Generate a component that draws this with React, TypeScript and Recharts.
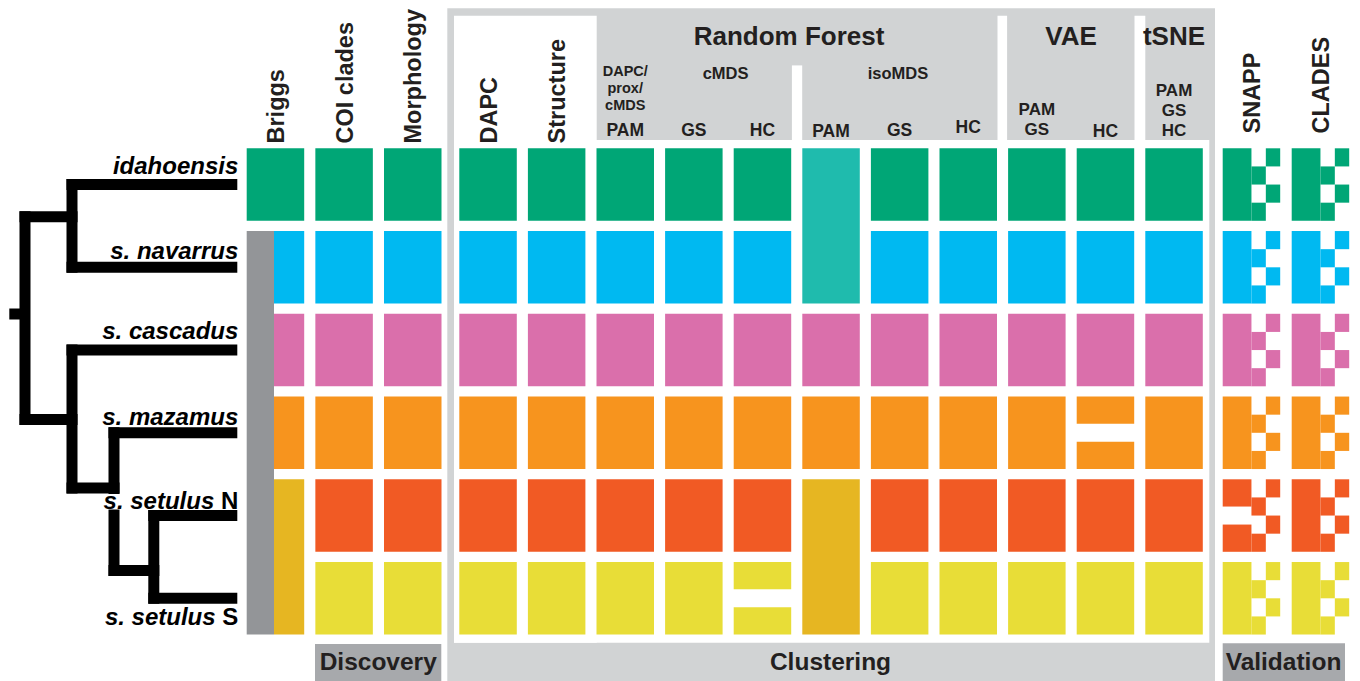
import React from 'react';
import { ComposedChart, XAxis, YAxis, ReferenceArea } from 'recharts';

const W = 1360;
const H = 681;

// ---------- data ----------
const taxa = ['idahoensis', 's. navarrus', 's. cascadus', 's. mazamus', 's. setulus N', 's. setulus S'];

const methods = [
  'Briggs', 'COI clades', 'Morphology',
  'DAPC', 'Structure', 'RF cMDS PAM', 'RF cMDS GS', 'RF cMDS HC',
  'RF isoMDS PAM', 'RF isoMDS GS', 'RF isoMDS HC', 'VAE PAM/GS', 'VAE HC', 'tSNE',
  'SNAPP', 'CLADES',
];

// cluster each taxon falls into, per method
const sixClusters = ['ida', 'nav', 'cas', 'maz', 'setN', 'setS'];
const briggsClusters = ['ida', 'nav', 'cas', 'maz', 'setNS', 'setNS'];
const isoPamClusters = ['idaNav', 'idaNav', 'cas', 'maz', 'setNS', 'setNS'];

// number of groups a taxon was broken into
const noSplit = [1, 1, 1, 1, 1, 1];
const cmdsHcSplit = [1, 1, 1, 1, 1, 2];
const vaeHcSplit = [1, 1, 1, 2, 1, 1];
const snappSplit = [1, 1, 1, 1, 2, 1];

// Briggs' species; taxa sharing a name are subspecies
const briggsSpecies = ['idahoensis', 'setulus', 'setulus', 'setulus', 'setulus', 'setulus'];

const clustersByMethod = [
  briggsClusters, sixClusters, sixClusters,
  sixClusters, sixClusters, sixClusters, sixClusters, sixClusters,
  isoPamClusters, sixClusters, sixClusters, sixClusters, sixClusters, sixClusters,
  sixClusters, sixClusters,
];
const splitsByMethod = [
  noSplit, noSplit, noSplit,
  noSplit, noSplit, noSplit, noSplit, cmdsHcSplit,
  noSplit, noSplit, noSplit, noSplit, vaeHcSplit, noSplit,
  snappSplit, noSplit,
];

// dendrogram: leaves are taxon indices, x = node depth, y = node height
type TreeNode = number | { x: number; y: number; kids: TreeNode[] };
const tree: TreeNode = {
  x: 25, y: 314, kids: [
    { x: 72, y: 216.7, kids: [0, 1] },
    { x: 72, y: 419.5, kids: [2, { x: 114, y: 488, kids: [3, { x: 153.8, y: 570.5, kids: [4, 5] }] }] },
  ],
};

// ---------- style / layout ----------
const clusterColors: Record<string, string> = {
  ida: '#00a676', nav: '#00b9f1', cas: '#da6fab', maz: '#f7941e',
  setN: '#f15a24', setS: '#e8dd37', idaNav: '#1fbbad', setNS: '#e6b622',
};
const INK = '#231f20';
const PANEL = '#d1d3d4';
const BOX = '#a7a9ac';
const STRIPE = '#939598';
const FONT = '"Liberation Sans", Arial, Helvetica, sans-serif';

const CELL_W = 57.5;
const CELL_H = 72.5;
const ROW_TOP = 148.3;
const ROW_PITCH = 82.75;
const SPLIT_GAP = 18;
const BRIGGS_STRIPE = 27.3;
const TIP_X = 237.3;
const BRANCH = 11;

const colLeft = (c: number) =>
  c < 3 ? 246.7 + c * 68.65 : c < 14 ? 459.3 + (c - 3) * 68.6 : 1222.7 + (c - 14) * 69;
const rowTop = (r: number) => ROW_TOP + r * ROW_PITCH;
const rowMid = (r: number) => rowTop(r) + CELL_H / 2;

// SNAPP / CLADES cell glyph: 4 sub-columns x 4 sub-rows
const ladder = [[1, 1, 1, 1], [1, 1, 1, 1], [0, 1, 0, 1], [1, 0, 1, 0]];

type Box = { x1: number; x2: number; y1: number; y2: number; fill: string };

function splitBox(b: Box, parts: number): Box[] {
  if (parts < 2) return [b];
  const mid = (b.y1 + b.y2) / 2;
  return [{ ...b, y2: mid - SPLIT_GAP / 2 }, { ...b, y1: mid + SPLIT_GAP / 2 }];
}

function buildCells(): Box[] {
  const out: Box[] = [];
  methods.forEach((m, c) => {
    const clusters = clustersByMethod[c];
    const splits = splitsByMethod[c];
    const left = colLeft(c);
    const isLadder = m === 'SNAPP' || m === 'CLADES';
    // Briggs subspecies stripe
    if (m === 'Briggs') {
      let r = 0;
      while (r < taxa.length) {
        let e = r;
        while (e + 1 < taxa.length && briggsSpecies[e + 1] === briggsSpecies[r]) e++;
        if (e > r) out.push({ x1: left, x2: left + BRIGGS_STRIPE, y1: rowTop(r), y2: rowTop(e) + CELL_H, fill: STRIPE });
        r = e + 1;
      }
    }
    let r = 0;
    while (r < taxa.length) {
      let e = r;
      while (e + 1 < taxa.length && clusters[e + 1] === clusters[r]) e++;
      const fill = clusterColors[clusters[r]];
      const y1 = rowTop(r);
      const y2 = rowTop(e) + CELL_H;
      let x1 = left;
      if (m === 'Briggs' && briggsSpecies.filter((s) => s === briggsSpecies[r]).length > 1) x1 += BRIGGS_STRIPE;
      if (isLadder) {
        const u = CELL_W / 4;
        const v = (y2 - y1) / 4;
        out.push(...splitBox({ x1, x2: x1 + 2 * u, y1, y2, fill }, splits[r]));
        for (let sc = 2; sc < 4; sc++) {
          ladder[sc].forEach((on, sr) => {
            if (on) out.push({ x1: x1 + sc * u, x2: x1 + (sc + 1) * u, y1: y1 + sr * v, y2: y1 + (sr + 1) * v, fill });
          });
        }
      } else {
        out.push(...splitBox({ x1, x2: left + CELL_W, y1, y2, fill }, e === r ? splits[r] : 1));
      }
      r = e + 1;
    }
  });
  return out;
}

function nodeY(n: TreeNode) {
  return typeof n === 'number' ? rowMid(n) : n.y;
}

function buildTree(): Box[] {
  const out: Box[] = [];
  const h = BRANCH / 2;
  const walk = (n: TreeNode) => {
    if (typeof n === 'number') return;
    const ys = n.kids.map(nodeY);
    out.push({ x1: n.x - h, x2: n.x + h, y1: Math.min(...ys) - h, y2: Math.max(...ys) + h, fill: '#000' });
    n.kids.forEach((k) => {
      const ky = nodeY(k);
      const end = typeof k === 'number' ? TIP_X : k.x + h;
      out.push({ x1: n.x - h, x2: end, y1: ky - h, y2: ky + h, fill: '#000' });
      walk(k);
    });
  };
  walk(tree);
  if (typeof tree !== 'number') {
    out.push({ x1: 9.3, x2: tree.x, y1: tree.y - h, y2: tree.y + h, fill: '#000' });
  }
  // the setulus N label sits on a white patch that breaks the stem
  out.push({ x1: 98, x2: 240, y1: 494, y2: 509.5, fill: '#fff' });
  return out;
}

// gray panels behind the method groups
const panels: Box[] = [
  { x1: 447.3, x2: 1215, y1: 8.3, y2: H, fill: PANEL },
  { x1: 454, x2: 596.7, y1: 15.7, y2: 642.7, fill: '#fff' },
  { x1: 454, x2: 1209.3, y1: 140, y2: 642.7, fill: '#fff' },
  { x1: 791.9, x2: 802.2, y1: 65.4, y2: 140, fill: '#fff' },
  { x1: 997.5, x2: 1007.1, y1: 15.7, y2: 140, fill: '#fff' },
  { x1: 1134.5, x2: 1145.3, y1: 15.7, y2: 140, fill: '#fff' },
  { x1: 315, x2: 441.3, y1: 644, y2: H, fill: BOX },
  { x1: 1222.7, x2: 1345, y1: 643.3, y2: H, fill: BOX },
];

const verticalHeads = [
  { col: 0, bottom: 143.5 }, { col: 1, bottom: 143.5 }, { col: 2, bottom: 143.5 },
  { col: 3, bottom: 143.5 }, { col: 4, bottom: 143.5 },
  { col: 14, bottom: 133.5 }, { col: 15, bottom: 133.5 },
];

const cellMid = (c: number) => colLeft(c) + CELL_W / 2;

const subHeads = [
  { t: 'DAPC/', x: cellMid(5), y: 76, s: 14.5 },
  { t: 'prox/', x: cellMid(5), y: 92.5, s: 14.5 },
  { t: 'cMDS', x: cellMid(5), y: 109.5, s: 14.5 },
  { t: 'cMDS', x: 725.6, y: 79, s: 16.5 },
  { t: 'isoMDS', x: 898, y: 79, s: 16.5 },
  { t: 'PAM', x: cellMid(5), y: 136, s: 17.5 },
  { t: 'GS', x: cellMid(6), y: 136, s: 17.5 },
  { t: 'HC', x: cellMid(7), y: 136, s: 17.5 },
  { t: 'PAM', x: cellMid(8), y: 136.5, s: 17.5 },
  { t: 'GS', x: cellMid(9), y: 136, s: 17.5 },
  { t: 'HC', x: cellMid(10), y: 133, s: 17.5 },
  { t: 'PAM', x: cellMid(11), y: 115, s: 17 },
  { t: 'GS', x: cellMid(11), y: 134.5, s: 17 },
  { t: 'HC', x: cellMid(12), y: 136.5, s: 17.5 },
  { t: 'PAM', x: cellMid(13), y: 96, s: 17 },
  { t: 'GS', x: cellMid(13), y: 115.5, s: 17 },
  { t: 'HC', x: cellMid(13), y: 135.5, s: 17 },
];

const groupHeads = [
  { t: 'Random Forest', x: 789, y: 44.5 },
  { t: 'VAE', x: 1071, y: 44.5 },
  { t: 'tSNE', x: 1174, y: 44.5 },
];

const footers = [
  { t: 'Discovery', x: 378.2 },
  { t: 'Clustering', x: 830.5 },
  { t: 'Validation', x: 1283.5 },
];

const taxonBaselines = [174.3, 259.3, 339.3, 425, 509, 625];

function Labels() {
  return (
    <svg
      width={W}
      height={H}
      style={{ position: 'absolute', left: 0, top: 0, pointerEvents: 'none' }}
    >
      <g fontFamily={FONT} fontWeight="bold" fill={INK}>
        {verticalHeads.map((v) => (
          <text
            key={methods[v.col]}
            transform={`translate(${cellMid(v.col) + 8.5},${v.bottom}) rotate(-90)`}
            fontSize={23.5}
            textAnchor="start"
          >
            {methods[v.col]}
          </text>
        ))}
        {groupHeads.map((g) => (
          <text key={g.t} x={g.x} y={g.y} fontSize={26} textAnchor="middle">{g.t}</text>
        ))}
        {subHeads.map((s, i) => (
          <text key={i} x={s.x} y={s.y} fontSize={s.s} textAnchor="middle">{s.t}</text>
        ))}
        {footers.map((f) => (
          <text key={f.t} x={f.x} y={670} fontSize={24.5} textAnchor="middle">{f.t}</text>
        ))}
        {taxa.map((t, i) => {
          const m = t.match(/^(.*?)( [NS])?$/);
          const main = m ? m[1] : t;
          const tail = m && m[2] ? m[2] : '';
          return (
            <text key={t} x={TIP_X + 1} y={taxonBaselines[i]} fontSize={24} textAnchor="end" fill="#000">
              <tspan fontStyle="italic">{main}</tspan>
              {tail && <tspan>{tail}</tspan>}
            </text>
          );
        })}
      </g>
    </svg>
  );
}

export default function App() {
  const cells = buildCells();
  const branches = buildTree();
  const areas = (list: Box[], key: string) =>
    list.map((b, i) => (
      <ReferenceArea
        key={`${key}${i}`}
        x1={b.x1}
        x2={b.x2}
        y1={b.y1}
        y2={b.y2}
        fill={b.fill}
        fillOpacity={1}
        stroke="none"
        ifOverflow="visible"
      />
    ));

  return (
    <div style={{ position: 'absolute', left: 0, top: 0, width: W, height: H, background: '#fff' }}>
      <ComposedChart width={W} height={H} margin={{ top: 0, right: 0, bottom: 0, left: 0 }} data={[]}>
        <XAxis type="number" dataKey="x" domain={[0, W]} hide allowDataOverflow />
        <YAxis type="number" dataKey="y" domain={[0, H]} reversed hide allowDataOverflow />
        {areas(panels, 'p')}
        {areas(cells, 'c')}
        {areas(branches, 'b')}
      </ComposedChart>
      <Labels />
    </div>
  );
}
